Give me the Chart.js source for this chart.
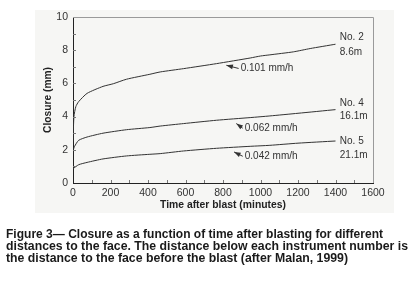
<!DOCTYPE html>
<html>
<head>
<meta charset="utf-8">
<script src="https://cdn.jsdelivr.net/npm/chart.js@4.4.1/dist/chart.umd.min.js"></script>
<style>
  html, body { margin: 0; padding: 0; background: #fff; }
  #wrap { width: 419px; height: 295px; position: relative; }
</style>
</head>
<body>
<div id="wrap"><canvas id="closureChart" width="419" height="295"></canvas></div>
<script>
// closure readings (time in minutes, closure in mm)
const times2 = [0, 5, 15, 30, 75, 160, 215, 285, 410, 465, 590, 765, 945, 1000, 1050, 1175, 1265, 1400];
const closure2 = [2.5, 4.0, 4.6, 4.9, 5.4, 5.82, 5.98, 6.25, 6.55, 6.69, 6.89, 7.19, 7.53, 7.65, 7.72, 7.9, 8.1, 8.36];
const times4 = [0, 8, 30, 75, 160, 285, 410, 465, 590, 765, 945, 1050, 1200, 1400];
const closure4 = [1.95, 2.2, 2.57, 2.77, 3.0, 3.21, 3.34, 3.43, 3.58, 3.78, 3.94, 4.04, 4.2, 4.42];
const times5 = [0, 30, 75, 160, 285, 410, 465, 590, 765, 945, 1050, 1200, 1400];
const closure5 = [0.86, 1.1, 1.24, 1.45, 1.63, 1.73, 1.77, 1.93, 2.09, 2.21, 2.27, 2.4, 2.53];

const xTicks = [0, 200, 400, 600, 800, 1000, 1200, 1400, 1600];
const yTicks = [0, 2, 4, 6, 8, 10];

// instrument labels at line ends
const endNames = ["No. 2", "No. 4", "No. 5"];
const endDistances = ["8.6m", "16.1m", "21.1m"];
const endNameY = [8.78, 4.8, 2.51];
const endDistY = [7.87, 4.02, 1.67];
const endLabelX = 1423;

// rate annotations with arrows
const rateTexts = ["0.101 mm/h", "0.062 mm/h", "0.042 mm/h"];
const rateTipX = [818, 871, 859];
const rateTipY = [7.09, 3.58, 1.87];
const rateTextX = [894, 916, 916];
const rateTextY = [6.9, 3.3, 1.61];

const caption = [
  "Figure 3\u2014 Closure as a function of time after blasting for different",
  "distances to the face. The distance below each instrument number is",
  "the distance to the face before the blast (after Malan, 1999)"
];

const toPoints = (xs, ys) => xs.map((x, i) => ({ x: x, y: ys[i] }));
const ink = "#333";
const FONT = "'Liberation Sans', Arial, sans-serif";

const decor = {
  id: "decor",
  beforeDraw(chart) {
    const ctx = chart.ctx;
    ctx.save();
    ctx.fillStyle = "#f6f6f4";
    ctx.fillRect(35, 10, 359, 203);
    ctx.restore();
  },
  afterDraw(chart) {
    const ctx = chart.ctx;
    const a = chart.chartArea;
    const xs = chart.scales.x;
    const ys = chart.scales.y;
    ctx.save();

    // top & right frame
    ctx.strokeStyle = "#9a9a9a";
    ctx.lineWidth = 1;
    ctx.beginPath();
    ctx.moveTo(a.left, a.top + 0.5);
    ctx.lineTo(a.right + 0.5, a.top + 0.5);
    ctx.lineTo(a.right + 0.5, a.bottom);
    ctx.stroke();

    // inward minor ticks
    ctx.strokeStyle = "#777";
    ctx.beginPath();
    for (let t = 100; t < 1600; t += 100) {
      const px = Math.round(xs.getPixelForValue(t)) + 0.5;
      ctx.moveTo(px, a.bottom);
      ctx.lineTo(px, a.bottom - 3);
    }
    for (let v = 1; v < 10; v += 1) {
      const py = Math.round(ys.getPixelForValue(v)) + 0.5;
      ctx.moveTo(a.left, py);
      ctx.lineTo(a.left + 3, py);
    }
    ctx.stroke();

    // axis titles
    ctx.fillStyle = "#222";
    ctx.font = "bold 10.5px " + FONT;
    ctx.textAlign = "center";
    ctx.textBaseline = "middle";
    ctx.fillText("Time after blast (minutes)", (a.left + a.right) / 2, 205, 126);
    ctx.save();
    ctx.translate(48, (a.top + a.bottom) / 2);
    ctx.rotate(-Math.PI / 2);
    ctx.fillText("Closure (mm)", 0, 0, 66);
    ctx.restore();

    // instrument labels
    ctx.fillStyle = ink;
    ctx.font = "10px " + FONT;
    ctx.textAlign = "left";
    for (let i = 0; i < endNames.length; i++) {
      const px = xs.getPixelForValue(endLabelX);
      ctx.fillText(endNames[i], px, ys.getPixelForValue(endNameY[i]));
      ctx.fillText(endDistances[i], px, ys.getPixelForValue(endDistY[i]));
    }

    // rate annotations
    ctx.strokeStyle = ink;
    for (let i = 0; i < rateTexts.length; i++) {
      const tx = xs.getPixelForValue(rateTipX[i]);
      const ty = ys.getPixelForValue(rateTipY[i]);
      const lx = xs.getPixelForValue(rateTextX[i]);
      const ly = ys.getPixelForValue(rateTextY[i]);
      const ex = lx - 2, ey = ly;
      const ang = Math.atan2(ty - ey, tx - ex);
      ctx.beginPath();
      ctx.moveTo(ex, ey);
      ctx.lineTo(tx, ty);
      ctx.stroke();
      ctx.beginPath();
      ctx.moveTo(tx, ty);
      ctx.lineTo(tx - 7 * Math.cos(ang - 0.35), ty - 7 * Math.sin(ang - 0.35));
      ctx.lineTo(tx - 7 * Math.cos(ang + 0.35), ty - 7 * Math.sin(ang + 0.35));
      ctx.closePath();
      ctx.fill();
      ctx.fillText(rateTexts[i], lx, ly);
    }

    // figure caption
    ctx.fillStyle = "#1a1a1a";
    ctx.font = "bold 12.4px " + FONT;
    ctx.textBaseline = "middle";
    const capWidths = [377, 402, 342];
    caption.forEach((line, i) => {
      ctx.fillText(line, 6, 235 + i * 11.8, capWidths[i]);
    });
    ctx.restore();
  }
};

const lineStyle = {
  borderColor: ink,
  borderWidth: 1,
  pointRadius: 0,
  tension: 0.2,
  fill: false
};

new Chart(document.getElementById("closureChart"), {
  type: "line",
  data: {
    datasets: [
      Object.assign({ label: "No. 2", data: toPoints(times2, closure2) }, lineStyle),
      Object.assign({ label: "No. 4", data: toPoints(times4, closure4) }, lineStyle),
      Object.assign({ label: "No. 5", data: toPoints(times5, closure5) }, lineStyle)
    ]
  },
  options: {
    responsive: false,
    animation: false,
    layout: { padding: { top: 17, right: 46, bottom: 82, left: 0 } },
    plugins: { legend: { display: false }, tooltip: { enabled: false } },
    scales: {
      x: {
        type: "linear",
        min: 0,
        max: 1600,
        afterBuildTicks: (s) => { s.ticks = xTicks.map((v) => ({ value: v })); },
        afterFit: (s) => { s.height = 30; },
        grid: { display: false, drawTicks: false },
        border: { color: "#222", width: 1 },
        ticks: {
          color: ink, font: { family: FONT, size: 10.5 }, padding: 4,
          maxRotation: 0, autoSkip: false, callback: (v) => String(v)
        }
      },
      y: {
        min: 0,
        max: 10,
        afterBuildTicks: (s) => { s.ticks = yTicks.map((v) => ({ value: v })); },
        afterFit: (s) => { s.width = 73; },
        grid: { display: false, drawTicks: false },
        border: { color: "#222", width: 1 },
        ticks: { color: ink, font: { family: FONT, size: 10.5 }, padding: 5, callback: (v) => String(v) }
      }
    }
  },
  plugins: [decor]
});
</script>
</body>
</html>
